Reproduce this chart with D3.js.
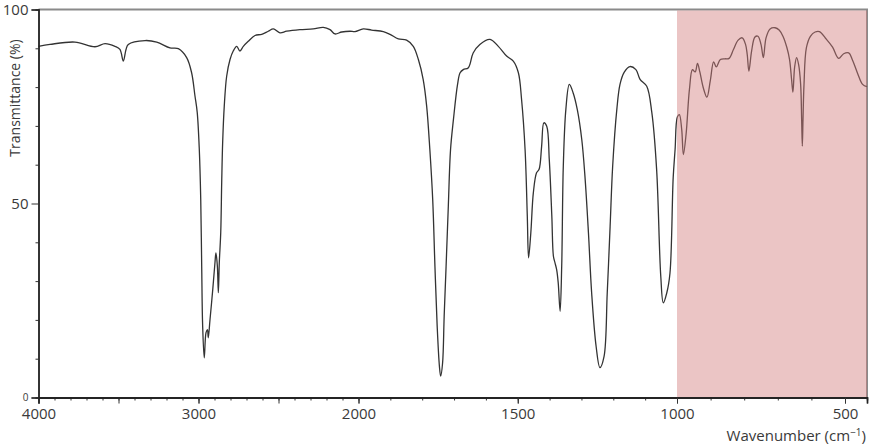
<!DOCTYPE html>
<html>
<head>
<meta charset="utf-8">
<script src="https://cdn.jsdelivr.net/npm/d3@7"></script>
<style>
  body { margin: 0; background: #fff; }
  text { font-family: "Open Sans", "Liberation Sans", sans-serif; fill: #3a3a3a; }
</style>
</head>
<body>
<div id="chart"></div>
<script>
// wavenumber (cm-1) and transmittance (%)
var wavenumber = [4000, 3928, 3772, 3647, 3584, 3522, 3491, 3470, 3453, 3439, 3334, 3261, 3178, 3126,
  3074, 3043, 3022, 3008, 2995, 2986, 2980, 2974, 2964, 2953, 2944, 2939, 2928, 2911, 2897, 2891,
  2882, 2876, 2870, 2861, 2855, 2849, 2839, 2824, 2803, 2783, 2761, 2741, 2720, 2689, 2647, 2605,
  2564, 2532, 2491, 2449, 2366, 2283, 2220, 2178, 2147, 2105, 2053, 2022,
  1985, 1959, 1922, 1901, 1875, 1849, 1828, 1812, 1797, 1786, 1776, 1767, 1760, 1753, 1746, 1742,
  1736, 1731, 1725, 1718, 1711, 1702, 1689, 1681, 1671, 1655, 1640, 1619, 1587, 1561, 1535, 1514,
  1498, 1488, 1477, 1470, 1466, 1459, 1451, 1441, 1433, 1425, 1418, 1409, 1401, 1393, 1388, 1383,
  1378, 1373, 1367, 1362, 1357, 1349, 1338, 1326, 1313, 1299, 1289, 1278, 1268, 1254, 1242, 1229,
  1219, 1210, 1202, 1189, 1179, 1166, 1148, 1129, 1116, 1095, 1079, 1064, 1051, 1043, 1032, 1022,
  1012, 1006, 999, 993, 986, 981, 973, 963, 954, 946, 939, 932, 922, 911, 901, 891, 883, 871, 857,
  845, 832, 818, 806, 796, 791, 786, 778, 768, 759, 750, 743, 735, 723, 708, 696, 684, 673, 665,
  659, 655, 650, 644, 638, 632, 629, 627, 625, 622, 615, 603, 589, 576, 558, 537, 519, 504, 489,
  478, 463, 448, 435];
var transmittance = [90.5, 91.0, 91.6, 90.4, 91.2, 90.5, 89.7, 86.7, 89.7, 91.0, 92.0, 91.6, 90.1, 89.9,
  87.6, 83.7, 77.7, 73.5, 63.9, 51.0, 33.8, 18.4, 10.2, 16.7, 17.5, 15.4, 20.1, 27.8, 34.8, 37.3,
  33.8, 27.0, 34.8, 42.5, 55.4, 65.7, 75.1, 82.8, 87.1, 89.3, 90.5, 89.3, 90.5, 91.8, 93.3, 93.6,
  94.4, 95.0, 94.0, 94.4, 94.8, 95.0, 95.4, 94.8, 93.7, 94.2, 94.4, 94.3,
  95.0, 94.7, 94.3, 93.6, 92.4, 92.1, 90.5, 87.1, 82.0, 75.1, 63.9, 51.0, 33.8, 18.4, 8.1, 5.5,
  8.9, 21.0, 33.8, 49.3, 63.9, 71.6, 80.7, 83.7, 84.5, 85.0, 88.8, 91.0, 92.3, 90.5, 88.0, 86.7,
  83.7, 76.8, 63.9, 46.7, 36.0, 42.4, 52.8, 57.9, 58.8, 64.8, 70.8, 69.9, 61.3, 46.7, 36.4, 34.7,
  33.0, 29.6, 22.2, 33.8, 59.6, 74.2, 80.7, 78.5, 74.2, 66.5, 57.0, 42.4, 27.0, 13.2, 7.7, 10.6,
  27.0, 44.1, 59.6, 74.2, 80.7, 83.8, 85.3, 84.5, 82.0, 80.2, 73.4, 58.8, 31.3, 24.4, 27.0, 32.1,
  56.6, 63.9, 72.3, 72.9, 69.1, 62.6, 67.8, 79.4, 84.5, 83.9, 86.1, 83.9, 79.9, 77.4, 81.6, 86.5, 85.2, 87.1, 87.3,
  87.4, 89.7, 92.1, 92.7, 91.0, 88.4, 84.1, 89.3, 92.9, 93.1, 91.0, 87.6, 92.7, 95.0, 95.3, 94.7, 93.0, 90.2, 87.1,
  82.0, 78.7, 85.1, 87.6, 85.8, 80.7, 71.6, 64.8, 71.6, 80.7, 90.1, 93.1, 94.2, 94.3, 92.6, 90.3, 87.4, 88.6, 88.8,
  87.0, 83.6, 80.7, 80.1];

var xLabelTicks = [4000, 3000, 2000, 1500, 1000, 500];
var xMajorTicks = [4000, 3500, 3000, 2500, 2000, 1500, 1000, 500];
var xMinorTicks = d3.range(3900, 400, -100);
var yLabelTicks = [0, 50, 100];
var yMinorTicks = [10, 20, 30, 40, 60, 70, 80, 90];
var shadedRange = [1000, 435];

var svgWidth = 871;
var svgHeight = 445;

var svg = d3.select("#chart").append("svg")
  .attr("width", svgWidth)
  .attr("height", svgHeight);

// x axis is compressed above 2000 cm-1 (two scale segments)
var xScale = d3.scaleLinear()
  .domain([4000, 2000, 1000, 500, 435])
  .range([38.5, 358.5, 677, 845, 867]);

var yScale = d3.scaleLinear()
  .domain([0, 100])
  .range([397.5, 9.5]);

var data = wavenumber.map(function(w, i) { return { w: w, t: transmittance[i] }; });

// frame on top and right
svg.append("path")
  .attr("d", "M" + xScale(4000) + "," + yScale(100) + "H" + xScale(435) + "V" + yScale(0))
  .attr("fill", "none")
  .attr("stroke", "#8a8a8a")
  .attr("stroke-width", 2);

var line = d3.line()
  .x(d => xScale(d.w))
  .y(d => yScale(d.t))
  .curve(d3.curveCatmullRom.alpha(0.5));

svg.append("path")
  .datum(data)
  .attr("d", line)
  .attr("fill", "none")
  .attr("stroke", "#333")
  .attr("stroke-width", 1.3);

// pink highlight laid over the fingerprint region
svg.append("rect")
  .attr("x", xScale(shadedRange[0]))
  .attr("y", yScale(100) + 1)
  .attr("width", xScale(shadedRange[1]) - xScale(shadedRange[0]))
  .attr("height", yScale(0) - yScale(100) - 1)
  .attr("fill", "rgb(211,126,126)")
  .attr("opacity", 0.45);

// x axis
var xMinor = svg.append("g")
  .attr("transform", "translate(0," + yScale(0) + ")")
  .call(d3.axisBottom(xScale).tickValues(xMinorTicks).tickSize(3).tickFormat(""));
var xMajor = svg.append("g")
  .attr("transform", "translate(0," + yScale(0) + ")")
  .call(d3.axisBottom(xScale).tickValues(xMajorTicks).tickSize(6).tickFormat(""));
var xLabels = svg.append("g")
  .attr("transform", "translate(0," + yScale(0) + ")")
  .call(d3.axisBottom(xScale).tickValues(xLabelTicks).tickSize(6).tickPadding(5).tickFormat(d3.format("d")));
xLabels.selectAll("text").style("font-size", "15px").attr("fill", "#3a3a3a");

// y axis
svg.append("g")
  .attr("transform", "translate(" + xScale(4000) + ",0)")
  .call(d3.axisLeft(yScale).tickValues(yMinorTicks).tickSize(3).tickFormat(""));
var yLabels = svg.append("g")
  .attr("transform", "translate(" + xScale(4000) + ",0)")
  .call(d3.axisLeft(yScale).tickValues(yLabelTicks).tickSize(7).tickPadding(3));
yLabels.selectAll("text")
  .attr("fill", "#3a3a3a")
  .style("font-size", d => d === 0 ? "10px" : "15px");

svg.selectAll(".domain").attr("stroke", "#222").attr("stroke-width", 1.4);
svg.selectAll(".tick line").attr("stroke", "#333");

// axis titles
svg.append("text")
  .attr("x", 866)
  .attr("y", 441)
  .attr("text-anchor", "end")
  .style("font-size", "15px")
  .html("Wavenumber (cm<tspan dy='-5' font-size='10px'>\u22121</tspan><tspan dy='5'>)</tspan>");

svg.append("text")
  .attr("transform", "translate(20,98) rotate(-90)")
  .attr("text-anchor", "middle")
  .style("font-size", "14px")
  .text("Transmittance (%)");
</script>
</body>
</html>
